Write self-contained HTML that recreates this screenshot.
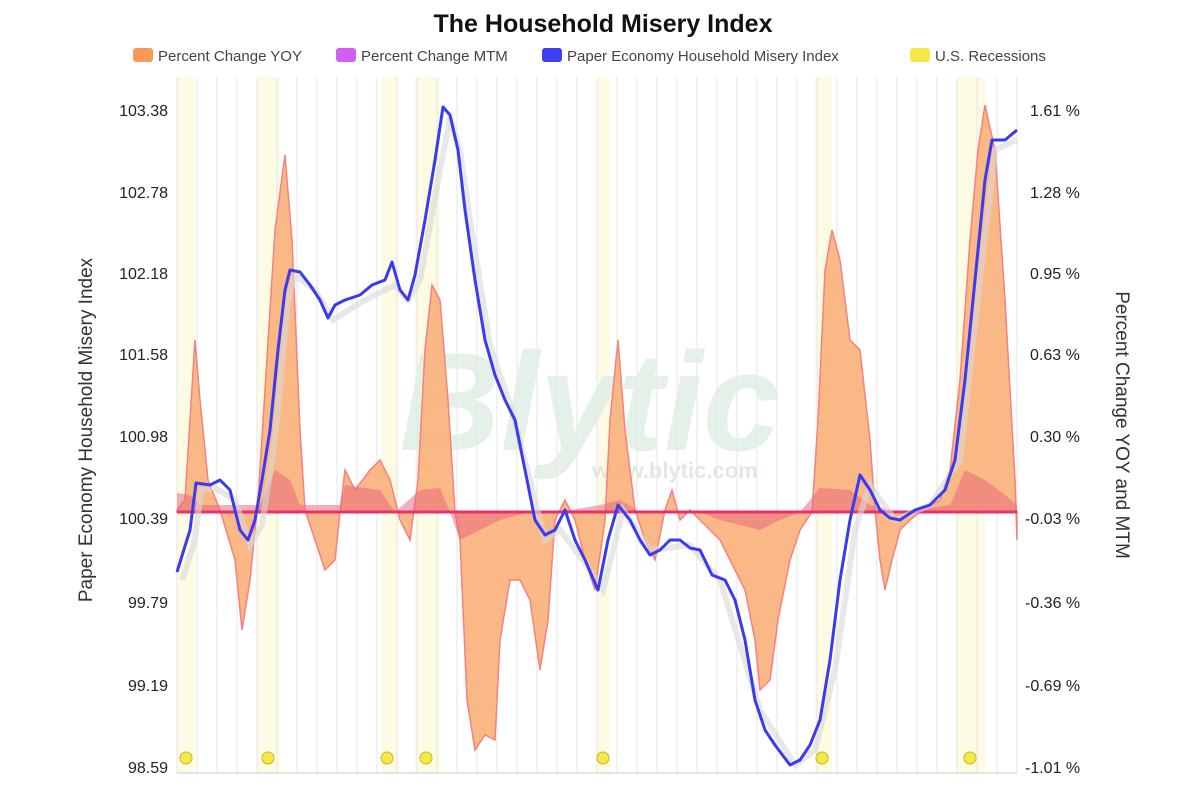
<!DOCTYPE html>
<html><head><meta charset="utf-8"><style>
body{margin:0;background:#fff;font-family:"Liberation Sans",sans-serif}
</style></head><body>
<svg width="1200" height="800" xmlns="http://www.w3.org/2000/svg" font-family="Liberation Sans, sans-serif">
<rect width="1200" height="800" fill="#fff"/>
<text x="603" y="32" text-anchor="middle" font-size="25" font-weight="bold" fill="#111">The Household Misery Index</text>
<g font-size="15" fill="#444">
<rect x="133" y="48" width="20" height="14" rx="3" fill="#f89a55"/><text x="158" y="61">Percent Change YOY</text>
<rect x="336" y="48" width="20" height="14" rx="3" fill="#d05ef0"/><text x="361" y="61">Percent Change MTM</text>
<rect x="542" y="48" width="20" height="14" rx="3" fill="#4040f0"/><text x="567" y="61">Paper Economy Household Misery Index</text>
<rect x="910" y="48" width="20" height="14" rx="3" fill="#f5e84a"/><text x="935" y="61">U.S. Recessions</text>
</g>
<g fill="#fdfbe4">
<rect x="177" y="77" width="18" height="696"/><rect x="258" y="77" width="22" height="696"/>
<rect x="382" y="77" width="16" height="696"/><rect x="415" y="77" width="25" height="696"/>
<rect x="597" y="77" width="13" height="696"/><rect x="815" y="77" width="17" height="696"/>
<rect x="956" y="77" width="29" height="696"/>
</g>
<g stroke="#e6e6e6" stroke-width="1" id="grid"></g>
<script>
var g=document.getElementById('grid');
for(var x=177;x<=1017;x+=20){var l=document.createElementNS('http://www.w3.org/2000/svg','line');l.setAttribute('x1',x);l.setAttribute('x2',x);l.setAttribute('y1',77);l.setAttribute('y2',773);g.appendChild(l);}
</script>
<text x="590" y="450" text-anchor="middle" font-size="140" font-weight="bold" font-style="italic" fill="#dfeee3" opacity="0.8">Blytic</text>
<text x="675" y="478" text-anchor="middle" font-size="22" font-weight="bold" fill="#e0e8e0">www.blytic.com</text>
<polygon fill="#f9b07a" fill-opacity="0.9" stroke="#f78080" stroke-width="1.5" points="177,512 177,510 185,500 195,340 200,400 208,480 220,510 235,560 242,630 250,580 258,500 265,390 275,230 285,155 292,240 300,430 305,510 315,540 325,570 335,560 340,512 345,470 355,490 370,470 380,460 390,480 400,520 410,540 418,480 425,350 432,285 440,300 448,400 455,512 460,540 467,700 475,750 485,735 495,740 500,640 510,580 520,580 530,600 540,670 548,620 555,520 565,500 575,520 585,560 595,590 605,520 610,420 618,340 625,430 635,510 645,540 655,560 665,510 672,490 680,520 690,510 700,520 710,530 720,540 730,560 745,590 755,640 760,690 770,680 778,620 790,560 800,530 812,512 818,420 825,270 832,230 840,260 850,340 860,350 870,440 875,510 880,560 885,590 892,560 900,530 910,520 920,512 940,500 950,470 960,380 970,240 978,150 985,105 995,150 1005,300 1015,480 1017,540 1017,512"/>
<polygon fill="#e8607a" fill-opacity="0.5" points="177,512 177,493 190,495 200,505 260,505 275,470 290,480 300,505 340,505 345,485 380,490 395,512 420,490 440,488 450,512 460,540 480,530 500,520 530,512 560,512 600,505 620,500 640,512 700,512 720,520 760,530 780,520 800,512 820,488 850,490 870,505 900,512 950,505 965,470 985,480 1005,495 1017,505 1017,512"/>
<line x1="177" y1="512" x2="1017" y2="512" stroke="#e83070" stroke-width="3"/>
<polyline fill="none" stroke="#d8d8d8" stroke-width="6" opacity="0.6" points="182,580 195,540 201,490 215,488 235,500 250,545 262,525 275,440 288,300 295,275 315,290 333,320 365,300 395,285 408,300 420,280 440,170 450,118 460,150 470,220 490,345 510,405 530,480 545,540 560,530 590,570 603,590 623,510 650,550 690,545 720,580 760,710 795,765 815,750 835,670 855,530 870,485 895,520 930,505 960,460 980,280 995,150 1017,140"/>
<polyline fill="none" stroke="#3a3af0" stroke-width="3" stroke-linejoin="round" points="177,572 190,530 196,483 210,485 220,480 230,490 240,530 248,540 255,520 262,480 270,430 278,350 285,290 290,270 300,272 310,285 320,300 328,318 335,305 345,300 360,295 372,285 385,280 392,262 400,290 408,300 415,275 425,220 435,160 443,107 450,115 458,150 465,210 475,280 485,340 495,375 505,400 515,420 525,470 535,520 545,535 555,530 565,510 575,540 585,560 598,590 608,540 618,505 630,520 640,540 650,555 660,550 670,540 680,540 690,548 700,550 712,575 725,580 735,600 745,640 755,700 765,730 775,745 790,765 800,760 810,745 820,720 830,660 840,580 850,520 860,475 870,490 880,510 890,518 900,520 915,510 930,505 945,490 955,460 965,380 975,280 985,180 992,140 1005,140 1017,130"/>
<line x1="177" y1="773" x2="1017" y2="773" stroke="#ccc"/>
<g fill="#f5e84a" stroke="#c8b820"><circle cx="186" cy="758" r="6"/><circle cx="268" cy="758" r="6"/><circle cx="387" cy="758" r="6"/><circle cx="426" cy="758" r="6"/><circle cx="603" cy="758" r="6"/><circle cx="822" cy="758" r="6"/><circle cx="970" cy="758" r="6"/></g>
<g font-size="16" fill="#222" text-anchor="end">
<text x="168" y="116">103.38</text><text x="168" y="198">102.78</text><text x="168" y="279">102.18</text><text x="168" y="360">101.58</text><text x="168" y="442">100.98</text><text x="168" y="524">100.39</text><text x="168" y="608">99.79</text><text x="168" y="691">99.19</text><text x="168" y="773">98.59</text>
</g>
<g font-size="16" fill="#222">
<text x="1030" y="116">1.61 %</text><text x="1030" y="198">1.28 %</text><text x="1030" y="279">0.95 %</text><text x="1030" y="360">0.63 %</text><text x="1030" y="442">0.30 %</text><text x="1025" y="524">-0.03 %</text><text x="1025" y="608">-0.36 %</text><text x="1025" y="691">-0.69 %</text><text x="1025" y="773">-1.01 %</text>
</g>
<text transform="translate(92,430) rotate(-90)" text-anchor="middle" font-size="19" fill="#333">Paper Economy Household Misery Index</text>
<text transform="translate(1116,425) rotate(90)" text-anchor="middle" font-size="19" fill="#333">Percent Change YOY and MTM</text>
</svg>
</body></html>
